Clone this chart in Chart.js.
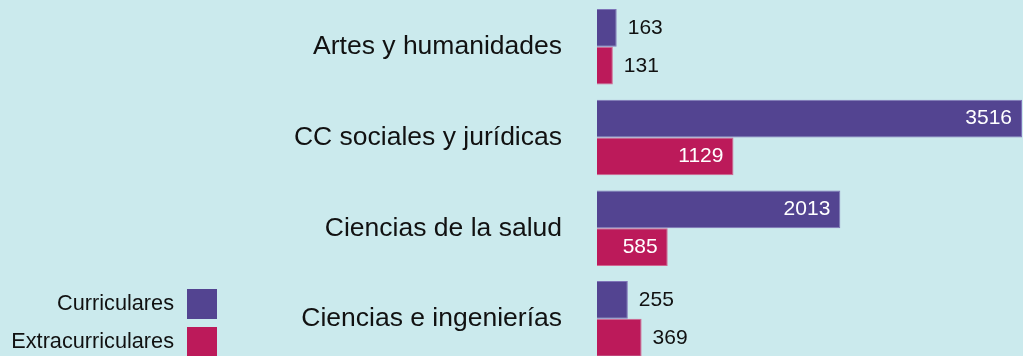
<!DOCTYPE html>
<html>
<head>
<meta charset="utf-8">
<script src="https://cdn.jsdelivr.net/npm/chart.js@4"></script>
<style>
    html, body { margin: 0; padding: 0; background: #cbeaed; overflow: hidden; }
    #wrap { width: 1023px; height: 356px; overflow: hidden; }
</style>
</head>
<body>
<div id="wrap">
    <canvas id="myChart" width="1023" height="366"></canvas>
</div>
<script>
var ramas = ["Artes y humanidades", "CC sociales y jurídicas", "Ciencias de la salud", "Ciencias e ingenierías"];
var curriculares = [163, 3516, 2013, 255];
var extracurriculares = [131, 1129, 585, 369];

var colorCurr = "#534491";
var colorExtra = "#bc1a5a";
var fuente = "'Liberation Sans', Arial, sans-serif";

// numeros sobre cada barra: dentro en blanco si cabe, fuera en negro si no
var etiquetasValor = {
    id: "etiquetasValor",
    afterDatasetsDraw: function (chart) {
        var ctx = chart.ctx;
        ctx.save();
        ctx.font = "21px " + fuente;
        ctx.textBaseline = "middle";
        chart.data.datasets.forEach(function (ds, i) {
            chart.getDatasetMeta(i).data.forEach(function (bar, j) {
                var ancho = bar.x - bar.base;
                var texto = String(ds.data[j]);
                if (ancho > 60) {
                    ctx.fillStyle = "#ffffff";
                    ctx.textAlign = "right";
                    ctx.fillText(texto, bar.x - 10, bar.y);
                } else {
                    ctx.fillStyle = "#111111";
                    ctx.textAlign = "left";
                    ctx.fillText(texto, bar.x + 11, bar.y);
                }
            });
        });
        ctx.restore();
    },
};

// leyenda abajo a la izquierda, texto a la izquierda del cuadrado
var leyenda = {
    id: "leyenda",
    afterDraw: function (chart) {
        var ctx = chart.ctx;
        ctx.save();
        ctx.font = "21.7px " + fuente;
        ctx.textAlign = "right";
        ctx.textBaseline = "middle";
        chart.data.datasets.forEach(function (ds, i) {
            var y = 289 + i * 38;
            ctx.fillStyle = ds.backgroundColor;
            ctx.fillRect(187, y, 30, 30);
            ctx.fillStyle = "#111111";
            ctx.fillText(ds.label, 174, y + 15.5);
        });
        ctx.restore();
    },
};

var ctx = document.getElementById("myChart").getContext("2d");
var myChart = new Chart(ctx, {
    type: "bar",
    data: {
        labels: ramas,
        datasets: [
            {
                label: "Curriculares",
                data: curriculares,
                backgroundColor: colorCurr,
                borderColor: "#7f74b8",
                borderWidth: 1,
                categoryPercentage: 0.833,
                barPercentage: 1.0,
            },
            {
                label: "Extracurriculares",
                data: extracurriculares,
                backgroundColor: colorExtra,
                borderColor: "#d2648f",
                borderWidth: 1,
                categoryPercentage: 0.833,
                barPercentage: 1.0,
            },
        ],
    },
    options: {
        indexAxis: "y",
        responsive: false,
        animation: false,
        layout: {
            autoPadding: false,
            padding: { top: 1.5, bottom: 1.8, left: 0, right: 1 },
        },
        plugins: {
            legend: { display: false },
            tooltip: { enabled: false },
        },
        scales: {
            x: {
                display: false,
                min: 0,
                max: 3516,
            },
            y: {
                grid: { display: false, drawTicks: false },
                border: { display: false },
                ticks: {
                    color: "#111111",
                    padding: 35,
                    font: { size: 26.5, family: fuente },
                },
                afterFit: function (scale) {
                    scale.width = 597;
                    scale.paddingTop = 0;
                    scale.paddingBottom = 0;
                },
            },
        },
    },
    plugins: [etiquetasValor, leyenda],
});
</script>
</body>
</html>
